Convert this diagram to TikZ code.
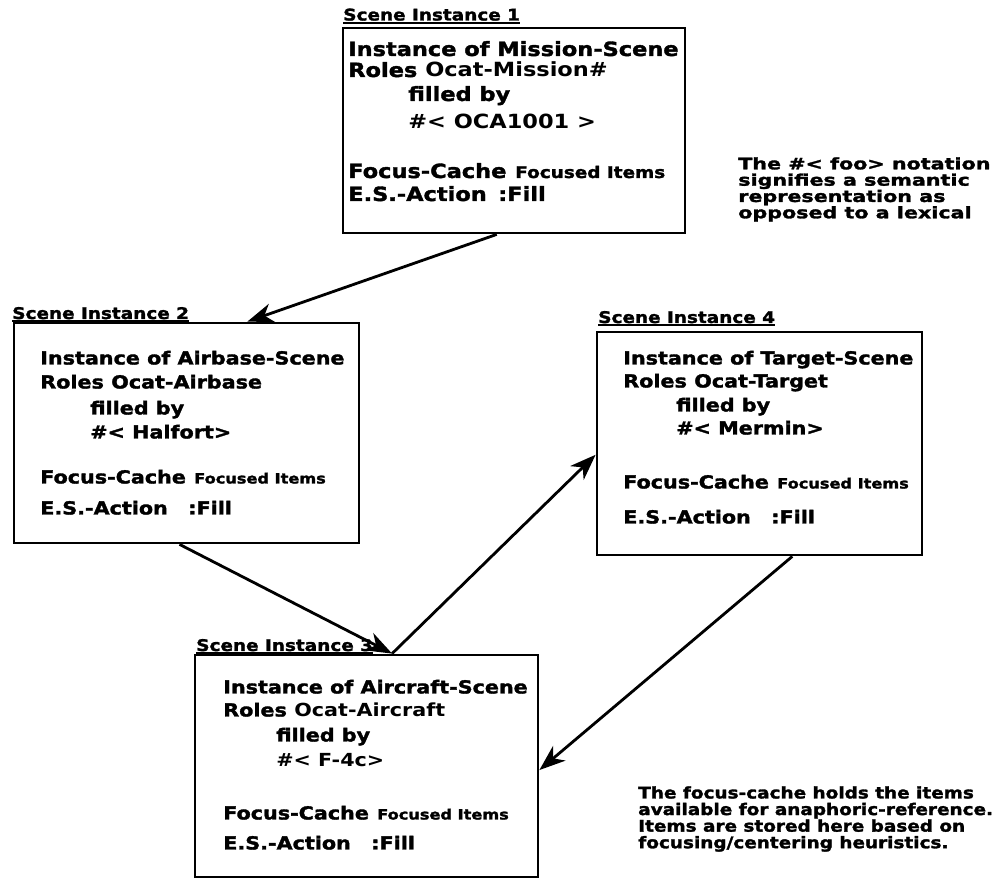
\documentclass[tikz,border=0pt]{standalone}
\usepackage{fontspec}
\setmainfont{DejaVu Sans}[FakeStretch=1.15, BoldFeatures={FakeBold=1.8}]
\newfontfamily\semifont{DejaVu Sans}[FakeStretch=1.15]
\newfontfamily\notefont{DejaVu Sans}[FakeStretch=1.3, BoldFeatures={FakeBold=1.8}]
\usepackage{tikz}
\usetikzlibrary{arrows.meta}
\usetikzlibrary{calc}

\begin{document}
\begin{tikzpicture}[
    scenebox/.style={draw=black, line width=2pt, inner sep=0pt},
    scenelabel/.style={anchor=base west, inner sep=0pt, font=\bfseries\fontsize{11.4}{13}\selectfont},
    rowbig/.style={anchor=base west, inner sep=0pt, font=\bfseries\fontsize{13.9}{16}\selectfont},
    rowtext/.style={anchor=base west, inner sep=0pt, font=\bfseries\fontsize{12.8}{15}\selectfont},
    rowlight/.style={anchor=base west, inner sep=0pt, font=\semifont\bfseries\fontsize{12.8}{15}\selectfont},
    rowsmall/.style={anchor=base west, inner sep=0pt, font=\bfseries\fontsize{10}{12}\selectfont},
    notetext/.style={anchor=north west, inner sep=0pt, align=left},
    link/.style={line width=2pt, -{Stealth[length=0.65cm, width=0.48cm, inset=0.2cm]}}
  ]
				\useasboundingbox (0,0) rectangle (25.025,21.975);
				% Scene Instance 1
				\node[scenebox, minimum width=8.55cm, minimum height=5.125cm] (P1) at (12.85,18.7125) {};
				\node[scenelabel] (S1) at (8.575,21.4625) {Scene Instance 1};
				\node[rowbig] (I1) at (8.7,20.575) {Instance of Mission-Scene};
				\node[rowbig] (R1) at (8.7,20.05) {Roles};
				\node[rowbig, font=\semifont\bfseries\fontsize{13.9}{16}\selectfont] (O1) at (10.625,20.05) {Ocat-Mission\#};
				\node[rowbig] (F1) at (10.2,19.45) {filled by};
				\node[rowbig, font=\semifont\bfseries\fontsize{13.9}{16}\selectfont] (H1) at (10.2,18.75) {\#< OCA1001 >};
				\node[rowbig] (C1) at (8.7,17.525) {Focus-Cache};
				\node[rowbig, font=\bfseries\fontsize{11.4}{13}\selectfont] (D1) at (12.875,17.525) {Focused Items};
				\node[rowbig] (E1) at (8.7,16.95) {E.S.-Action};
				\node[rowbig] (L1) at (12.45,16.95) {:Fill};
				% Scene Instance 2
				\node[scenebox, minimum width=8.625cm, minimum height=5.5cm] (P2) at (4.6625,11.15) {};
				\node[scenelabel] (S2) at (0.3,14.0) {Scene Instance 2};
				\node[rowtext] (I2) at (1.0,12.8625) {Instance of Airbase-Scene};
				\node[rowtext] (R2) at (1.0,12.2625) {Roles};
				\node[rowtext] (O2) at (2.775,12.2625) {Ocat-Airbase};
				\node[rowtext] (F2) at (2.25,11.6125) {filled by};
				\node[rowtext] (H2) at (2.25,11.0125) {\#< Halfort>};
				\node[rowtext] (C2) at (1.0,9.8875) {Focus-Cache};
				\node[rowsmall] (D2) at (4.85,9.8875) {Focused Items};
				\node[rowtext] (E2) at (1.0,9.1125) {E.S.-Action};
				\node[rowtext] (L2) at (4.7,9.1125) {:Fill};
				% Scene Instance 4
				\node[scenebox, minimum width=8.125cm, minimum height=5.575cm] (P4) at (18.9875,10.8875) {};
				\node[scenelabel] (S4) at (14.95,13.9) {Scene Instance 4};
				\node[rowtext] (I4) at (15.575,12.8625) {Instance of Target-Scene};
				\node[rowtext] (R4) at (15.575,12.2875) {Roles};
				\node[rowtext] (O4) at (17.35,12.2875) {Ocat-Target};
				\node[rowtext] (F4) at (16.9,11.6875) {filled by};
				\node[rowtext] (H4) at (16.9,11.1125) {\#< Mermin>};
				\node[rowtext] (C4) at (15.575,9.7625) {Focus-Cache};
				\node[rowsmall] (D4) at (19.425,9.7625) {Focused Items};
				\node[rowtext] (E4) at (15.575,8.8875) {E.S.-Action};
				\node[rowtext] (L4) at (19.275,8.8875) {:Fill};
				% Scene Instance 3
				\node[scenebox, minimum width=8.575cm, minimum height=5.55cm] (P3) at (9.1625,2.825) {};
				\node[scenelabel] (S3) at (4.9,5.7) {Scene Instance 3};
				\node[rowtext] (I3) at (5.575,4.6375) {Instance of Aircraft-Scene};
				\node[rowtext] (R3) at (5.575,4.0625) {Roles};
				\node[rowlight] (O3) at (7.35,4.0625) {Ocat-Aircraft};
				\node[rowtext] (F3) at (6.9,3.4375) {filled by};
				\node[rowlight] (H3) at (6.9,2.8125) {\#< F-4c>};
				\node[rowtext] (C3) at (5.575,1.4875) {Focus-Cache};
				\node[rowsmall] (D3) at (9.425,1.4875) {Focused Items};
				\node[rowtext] (E3) at (5.575,0.7375) {E.S.-Action};
				\node[rowtext] (L3) at (9.275,0.7375) {:Fill};
				% underlined titles
				\foreach \s in {S1,S2,S3,S4}
					\draw[line width=1.3pt] ($(\s.base west)+(0,-0.06)$) -- ($(\s.base east)+(0,-0.06)$);
				% notes
				\node[notetext, font=\notefont\bfseries\fontsize{11.3}{11.6}\selectfont] (N1) at (18.45,18.05) {The \#< foo> notation\\signifies a semantic\\representation as\\opposed to a lexical};
				\node[notetext, font=\bfseries\fontsize{11.4}{11.8}\selectfont] (N2) at (15.95,2.325) {The focus-cache holds the items\\available for anaphoric-reference.\\Items are stored here based on\\focusing/centering heuristics.};
				% links
				\draw[link] ($(P1.south west)!0.45!(P1.south east)$) -- ($(P2.north west)!0.675!(P2.north east)$);
				\draw[link] ($(P2.south west)!0.48!(P2.south east)$) -- ($(P3.north west)!0.574!(P3.north east)$);
				\draw[link] ($(P3.north west)!0.574!(P3.north east)$) -- ($(P4.north west)!0.55!(P4.south west)$);
				\draw[link] ($(P4.south west)!0.6!(P4.south east)$) -- ($(P3.north east)!0.518!(P3.south east)$);
\end{tikzpicture}
\end{document}
